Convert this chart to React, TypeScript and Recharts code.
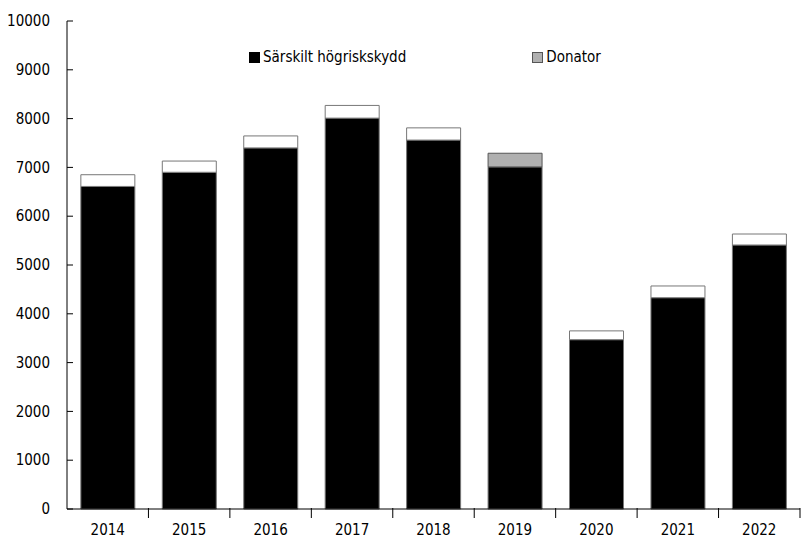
import React from 'react';
import { BarChart, Bar, XAxis, YAxis, Cell } from 'recharts';

const years = ['2014', '2015', '2016', '2017', '2018', '2019', '2020', '2021', '2022'];
const hogriskskydd = [6610, 6900, 7400, 8010, 7560, 7010, 3470, 4330, 5410];
const donator = [0, 0, 0, 0, 0, 280, 0, 0, 0];
const ovrigt = [240, 230, 245, 260, 250, 0, 180, 240, 225];
const yTicks = [0, 1000, 2000, 3000, 4000, 5000, 6000, 7000, 8000, 9000, 10000];

const legendItems = [
	{ name: 'Särskilt högriskskydd', color: '#000000', border: '#000000' },
	{ name: 'Donator', color: '#b0b0b0', border: '#555555' }
];

const data = years.map((year, i) => ({
	year,
	hogriskskydd: hogriskskydd[i],
	donator: donator[i],
	ovrigt: ovrigt[i]
}));

const FONT = '"Liberation Sans Narrow", "DejaVu Sans Condensed", sans-serif';
const BAND = 733 / years.length;

const XTick = (props: any) => {
	const { x, y, payload } = props;
	return (
		<g>
			<line x1={x + BAND / 2} y1={y - 16} x2={x + BAND / 2} y2={y - 6} stroke="#000" />
			<text x={x} y={y} dy="0.71em" textAnchor="middle" fill="#000" fontSize={15} fontFamily={FONT}>
				{payload.value}
			</text>
		</g>
	);
};

const YTick = (props: any) => {
	const { x, y, payload } = props;
	return (
		<g>
			<line x1={x + 17} y1={y} x2={x + 23} y2={y} stroke="#000" />
			<text x={x} y={y} dy="0.35em" textAnchor="end" fill="#000" fontSize={15} fontFamily={FONT}>
				{payload.value}
			</text>
		</g>
	);
};

const App: React.FC = () => {
	return (
		<div style={{ position: 'absolute', left: 0, top: 0, width: 802, height: 539, background: '#fff' }}>
			<BarChart
				width={802}
				height={539}
				data={data}
				margin={{ top: 21, right: 2, left: 0, bottom: 0 }}
				barCategoryGap="17%"
			>
				<XAxis
					dataKey="year"
					height={30}
					tickLine={false}
					tickSize={0}
					tickMargin={15}
					stroke="#000"
					tick={<XTick />}
					interval={0}
				/>
				<YAxis
					width={67}
					domain={[0, 10000]}
					ticks={yTicks}
					tickLine={false}
					tickSize={0}
					tickMargin={17}
					stroke="#000"
					tick={<YTick />}
					interval={0}
				/>
				<Bar dataKey="hogriskskydd" stackId="a" fill="#000" stroke="#777" isAnimationActive={false} />
				<Bar dataKey="donator" stackId="a" fill="#b0b0b0" stroke="#555" isAnimationActive={false} />
				<Bar dataKey="ovrigt" stackId="a" fill="#fff" stroke="#777" isAnimationActive={false}>
					{data.map((d) => (
						<Cell key={d.year} fill="#fff" />
					))}
				</Bar>
			</BarChart>
			<div
				style={{
					position: 'absolute',
					left: 249,
					top: 48,
					display: 'flex',
					fontFamily: FONT,
					fontSize: 15,
					color: '#000',
					lineHeight: '18px'
				}}
			>
				{legendItems.map((item, i) => (
					<div
						key={item.name}
						style={{ display: 'flex', alignItems: 'center', marginRight: i === 0 ? 126 : 0 }}
					>
						<span
							style={{
								display: 'inline-block',
								width: 9,
								height: 9,
								background: item.color,
								border: `1px solid ${item.border}`,
								marginRight: 3
							}}
						/>
						<span>{item.name}</span>
					</div>
				))}
			</div>
		</div>
	);
};

export default App;
